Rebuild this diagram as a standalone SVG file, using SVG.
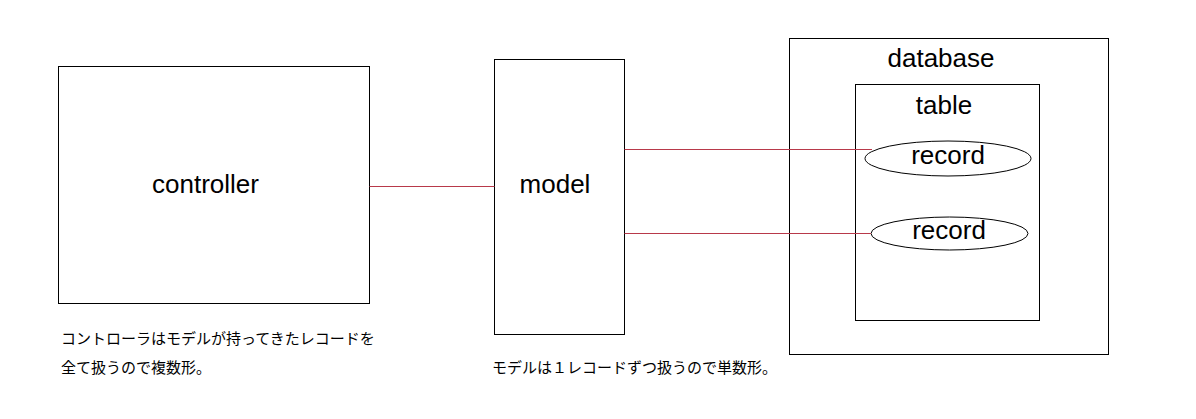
<svg xmlns="http://www.w3.org/2000/svg" width="1196" height="419" viewBox="0 0 1196 419">
<style>
.box{fill:none;stroke:#000;stroke-width:1}
.conn{stroke:#b8394a;stroke-width:1;fill:none}
.lbl{font-family:"Liberation Sans",Arial,sans-serif;font-size:26px;fill:#000;text-anchor:middle}
.note{font-family:"Noto Sans CJK JP","Noto Sans",sans-serif;font-size:15px;fill:#000}
</style>
<rect width="1196" height="419" fill="#fff"/>
<g id="controller">
<rect class="box" x="58.5" y="66.5" width="311" height="237"/>
<text class="lbl" x="205.5" y="193">controller</text>
</g>
<g id="model">
<rect class="box" x="494.5" y="59.5" width="130" height="275"/>
<text class="lbl" x="555" y="193">model</text>
</g>
<g id="database">
<rect class="box" x="789.5" y="38.5" width="319" height="316"/>
<text class="lbl" x="941" y="67">database</text>
</g>
<g id="table">
<rect class="box" x="855.5" y="84.5" width="184" height="236"/>
<text class="lbl" x="944" y="114">table</text>
</g>
<g id="record1">
<ellipse class="box" cx="948" cy="158.5" rx="83" ry="17.5"/>
<text class="lbl" x="948" y="164">record</text>
</g>
<g id="record2">
<ellipse class="box" cx="949.5" cy="233.5" rx="78.5" ry="16.5"/>
<text class="lbl" x="949" y="239">record</text>
</g>
<g id="connectors">
<line class="conn" x1="369.5" y1="186.5" x2="494.5" y2="186.5"/>
<line class="conn" x1="624.5" y1="149.5" x2="872" y2="149.5"/>
<line class="conn" x1="624.5" y1="233.5" x2="871" y2="233.5"/>
</g>
<g id="notes">
<text class="note" x="61" y="344">コントローラはモデルが持ってきたレコードを</text>
<text class="note" x="61" y="373">全て扱うので複数形。</text>
<text class="note" x="492" y="373">モデルは１レコードずつ扱うので単数形。</text>
</g>
</svg>
